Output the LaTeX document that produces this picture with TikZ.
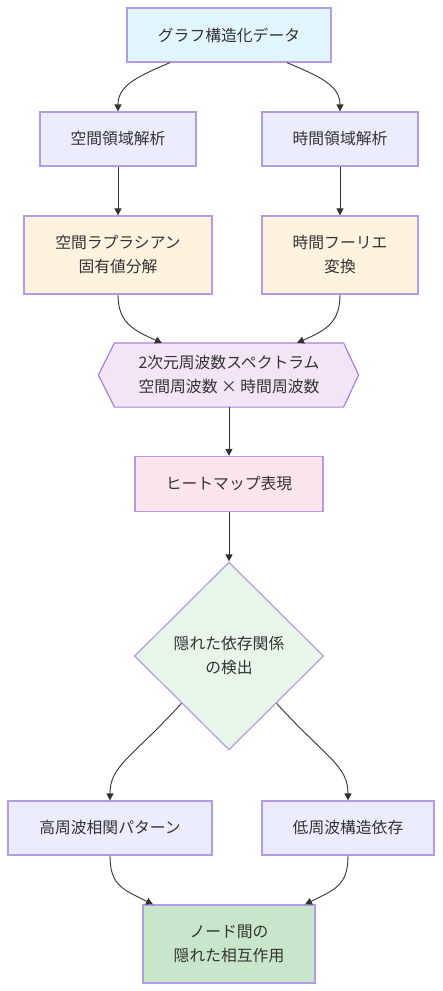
\documentclass[tikz,border=0pt]{standalone}
\usepackage{fontspec}
\setmainfont{Noto Sans CJK JP}
\usetikzlibrary{arrows.meta,shapes.geometric}
\definecolor{strk}{HTML}{9370DB}
\definecolor{txt}{HTML}{333333}
\definecolor{cblue}{HTML}{E1F5FE}
\definecolor{clav}{HTML}{ECECFF}
\definecolor{corange}{HTML}{FFF3E0}
\definecolor{cpurp}{HTML}{F3E5F5}
\definecolor{cpink}{HTML}{FCE4EC}
\definecolor{cmint}{HTML}{E8F5E9}
\definecolor{cgreen}{HTML}{C8E6C9}
\tikzset{
  box/.style={draw=strk!70, line width=1.2pt, rectangle, inner sep=0pt, align=center, text=txt,
    font=\fontsize{15.8}{24}\selectfont},
  arr/.style={draw=txt, line width=0.9pt, -{Triangle[length=7pt,width=7pt]}},
}
\begin{document}
\begin{tikzpicture}[x=1pt,y=-1pt]
\useasboundingbox[fill=white] (0,0) rectangle (442,991);
\node[box, fill=cblue, minimum width=204pt, minimum height=54pt] (top) at (229,35) {グラフ構造化データ};
\node[box, fill=clav, minimum width=156pt, minimum height=54pt] (sa) at (118,139) {空間領域解析};
\node[box, fill=clav, minimum width=156pt, minimum height=54pt] (ta) at (340,139) {時間領域解析};
\node[box, fill=corange, minimum width=188pt, minimum height=78pt] (sl) at (118,255) {空間ラプラシアン\\固有値分解};
\node[box, fill=corange, minimum width=156pt, minimum height=78pt] (tf) at (340,255) {時間フーリエ\\変換};
\node[box, draw=none, minimum width=228pt, minimum height=63pt] (spec) at (229,375) {};
\draw[draw=strk!85, line width=1.2pt, fill=cpurp] (spec.north west) -- (spec.north east) -- ([xshift=15pt]spec.east) -- (spec.south east) -- (spec.south west) -- ([xshift=-16pt]spec.west) -- cycle;
\node[box, draw=none] at (spec.center) {2次元周波数スペクトラム\\空間周波数 × 時間周波数};
\node[box, fill=cpink, minimum width=188pt, minimum height=55pt] (heat) at (229,484) {ヒートマップ表現};
\node[box, shape=diamond, fill=cmint, minimum width=189pt, minimum height=188pt] (dia) at (229,656) {隠れた依存関係\\の検出};
\node[box, fill=clav, minimum width=204pt, minimum height=54pt] (hf) at (110,828) {高周波相関パターン};
\node[box, fill=clav, minimum width=172pt, minimum height=54pt] (lf) at (348,828) {低周波構造依存};
\node[box, fill=cgreen, minimum width=172pt, minimum height=78pt] (fin) at (229,944) {ノード間の\\隠れた相互作用};
\draw[arr] ([xshift=-59pt]top.south) .. controls +(-30,13) and +(0,-27) .. (sa.north);
\draw[arr] ([xshift=58pt]top.south) .. controls +(30,13) and +(0,-27) .. (ta.north);
\draw[arr] (sa.south) -- (sl.north);
\draw[arr] (ta.south) -- (tf.north);
\draw[arr] (sl.south) .. controls +(0,27) and +(-30,-13) .. ([xshift=-67pt]spec.north);
\draw[arr] (tf.south) .. controls +(0,27) and +(30,-13) .. ([xshift=68pt]spec.north);
\draw[arr] (spec.south) -- (heat.north);
\draw[arr] (heat.south) -- (dia.north);
\draw[arr] (dia.south west) .. controls +(-50,55) and +(0,-35) .. (hf.north);
\draw[arr] (dia.south east) .. controls +(50,55) and +(0,-35) .. (lf.north);
\draw[arr] (hf.south) .. controls +(0,30) and +(-30,-15) .. ([xshift=-76pt]fin.north);
\draw[arr] (lf.south) .. controls +(0,30) and +(30,-15) .. ([xshift=76pt]fin.north);
\end{tikzpicture}
\end{document}
